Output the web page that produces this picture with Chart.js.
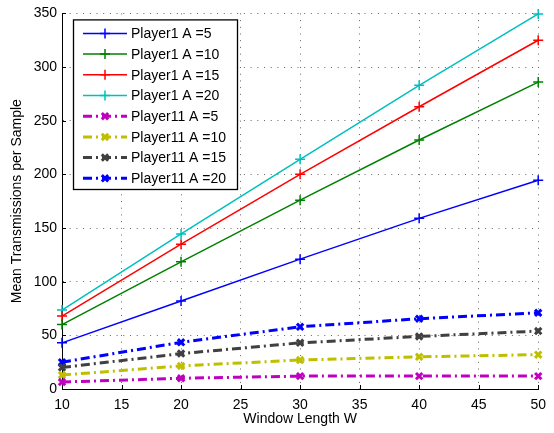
<!DOCTYPE html>
<html>
<head>
<meta charset="utf-8">
<script src="https://cdn.jsdelivr.net/npm/chart.js@4/dist/chart.umd.min.js"></script>
<style>
  html, body { margin: 0; padding: 0; background: #fff; }
  #wrap { width: 554px; height: 433px; position: relative; }
</style>
</head>
<body>
<div id="wrap"><canvas id="txChart"></canvas></div>
<script>
// ---------------------------
// Data
// ---------------------------
const windowLengths = [10, 20, 30, 40, 50];
const yTicks = [0, 50, 100, 150, 200, 250, 300, 350];

const player1A5  = [43, 82, 121, 159, 194.5];
const player1A10 = [60, 118.5, 176, 232, 286];
const player1A15 = [68, 135, 200, 263, 325];
const player1A20 = [73.5, 144.5, 214, 283, 349.5];

const player11A5  = [6.5, 10, 12, 12, 12];
const player11A10 = [13, 21.5, 27, 30, 32];
const player11A15 = [20, 33, 43, 49, 54];
const player11A20 = [25, 43.5, 58, 65.5, 71];

const FONT = "'Liberation Sans', Arial, Helvetica, sans-serif";
const DASH_DOT = [9, 4, 2, 4];
const GRID_DOTS = [1, 5.7];

function solidSeries(label, values, color) {
    return {
        label: label,
        data: windowLengths.map((w, i) => ({ x: w, y: values[i] })),
        borderColor: color,
        backgroundColor: color,
        borderWidth: 1.5,
        pointStyle: "cross",
        pointRadius: 5,
        pointBorderWidth: 1.5,
        pointBorderColor: color,
        tension: 0,
        clip: false
    };
}

function dashedSeries(label, values, color) {
    return {
        label: label,
        data: windowLengths.map((w, i) => ({ x: w, y: values[i] })),
        borderColor: color,
        backgroundColor: color,
        borderWidth: 3,
        borderDash: DASH_DOT,
        pointStyle: "crossRot",
        pointRadius: 4.5,
        pointBorderWidth: 3,
        pointBorderColor: color,
        tension: 0,
        clip: false
    };
}

const datasets = [
    solidSeries("Player1 A =5", player1A5, "#0000ff"),
    solidSeries("Player1 A =10", player1A10, "#008000"),
    solidSeries("Player1 A =15", player1A15, "#ff0000"),
    solidSeries("Player1 A =20", player1A20, "#00bfbf"),
    dashedSeries("Player11 A =5", player11A5, "#bf00bf"),
    dashedSeries("Player11 A =10", player11A10, "#bfbf00"),
    dashedSeries("Player11 A =15", player11A15, "#404040"),
    dashedSeries("Player11 A =20", player11A20, "#0000ff")
];

// ---------------------------
// Inward tick marks on the left and bottom axes
// ---------------------------
const innerTicks = {
    id: "innerTicks",
    afterDatasetsDraw(chart) {
        const { ctx, chartArea, scales } = chart;
        ctx.save();
        ctx.strokeStyle = "#000";
        ctx.lineWidth = 1;
        ctx.beginPath();
        scales.x.ticks.forEach(t => {
            const px = Math.round(scales.x.getPixelForValue(t.value)) + 0.5;
            ctx.moveTo(px, chartArea.bottom);
            ctx.lineTo(px, chartArea.bottom - 4);
        });
        scales.y.ticks.forEach(t => {
            const py = Math.round(scales.y.getPixelForValue(t.value)) + 0.5;
            ctx.moveTo(chartArea.left, py);
            ctx.lineTo(chartArea.left + 4, py);
        });
        ctx.stroke();
        ctx.restore();
    }
};

// ---------------------------
// Boxed legend in the upper left corner
// ---------------------------
const boxLegend = {
    id: "boxLegend",
    afterDraw(chart) {
        const { ctx, chartArea } = chart;
        const left = chartArea.left + 11;
        const top = chartArea.top + 6;
        const w = 164, rowH = 20.7;
        const h = rowH * chart.data.datasets.length + 4;

        ctx.save();
        ctx.fillStyle = "#fff";
        ctx.fillRect(left, top, w, h);
        ctx.strokeStyle = "#000";
        ctx.lineWidth = 1.3;
        ctx.strokeRect(left + 0.5, top + 0.5, w, h);

        ctx.font = "14px " + FONT;
        ctx.textBaseline = "middle";
        chart.data.datasets.forEach((ds, i) => {
            const y = top + 14 + i * rowH;
            ctx.strokeStyle = ds.borderColor;
            ctx.lineWidth = ds.borderWidth;
            ctx.setLineDash(ds.borderDash || []);
            ctx.beginPath();
            ctx.moveTo(left + 10, y);
            ctx.lineTo(left + 54, y);
            ctx.stroke();
            ctx.setLineDash([]);
            Chart.helpers.drawPoint(ctx, {
                pointStyle: ds.pointStyle,
                radius: ds.pointRadius,
                borderWidth: ds.pointBorderWidth,
                rotation: 0
            }, left + 32, y);
            ctx.fillStyle = "#000";
            ctx.fillText(ds.label, left + 58, y + 1);
        });
        ctx.restore();
    }
};

const dotted = { color: "#666", lineWidth: 1, drawTicks: false };

new Chart(document.getElementById("txChart"), {
    type: "line",
    data: { datasets: datasets },
    options: {
        responsive: true,
        maintainAspectRatio: false,
        animation: false,
        layout: { padding: { left: 0, top: 13, right: 12, bottom: 0 } },
        plugins: {
            legend: { display: false },
            tooltip: { enabled: false }
        },
        scales: {
            x: {
                type: "linear",
                min: 10,
                max: 50,
                ticks: { stepSize: 5, color: "#000", padding: 8, font: { family: FONT, size: 14 }, maxRotation: 0 },
                grid: dotted,
                border: { display: true, color: "#000", width: 1, dash: GRID_DOTS },
                title: { display: true, text: "Window Length W", color: "#000", font: { family: FONT, size: 14 }, padding: { top: 0, bottom: 5 } },
                afterFit(scale) { scale.height = 44; }
            },
            y: {
                type: "linear",
                min: 0,
                max: 350,
                afterBuildTicks(scale) { scale.ticks = yTicks.map(v => ({ value: v })); },
                ticks: { color: "#000", padding: 5, font: { family: FONT, size: 14 } },
                grid: dotted,
                border: { display: true, color: "#000", width: 1, dash: GRID_DOTS },
                title: { display: true, text: "Mean Transmissions per Sample", color: "#000", font: { family: FONT, size: 14 }, padding: { top: 9, bottom: 9 } },
                afterFit(scale) { scale.width = 62; }
            }
        }
    },
    plugins: [innerTicks, boxLegend]
});
</script>
</body>
</html>
